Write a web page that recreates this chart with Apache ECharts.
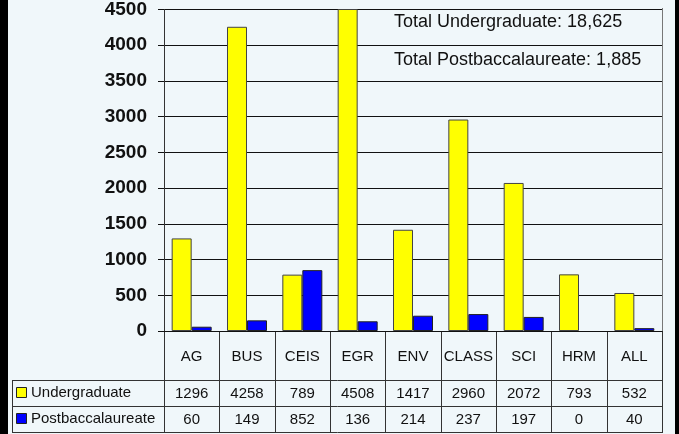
<!DOCTYPE html>
<html>
<head>
<meta charset="utf-8">
<script src="https://cdn.jsdelivr.net/npm/echarts@6/dist/echarts.min.js"></script>
<style>
  html, body { margin: 0; padding: 0; background: #000; }
  #main { width: 679px; height: 434px; }
</style>
</head>
<body>
<div id="main"></div>
<script>
// data
var categories = ["AG", "BUS", "CEIS", "EGR", "ENV", "CLASS", "SCI", "HRM", "ALL"];
var undergrad = [1296, 4258, 789, 4508, 1417, 2960, 2072, 793, 532];
var postbac = [60, 149, 852, 136, 214, 237, 197, 0, 40];
var yTicks = [0, 500, 1000, 1500, 2000, 2500, 3000, 3500, 4000, 4500];
var seriesNames = ["Undergraduate", "Postbaccalaureate"];
var seriesColors = ["#FFFF00", "#0000FF"];
var totals = ["Total Undergraduate: 18,625", "Total Postbaccalaureate: 1,885"];

var chartDom = document.getElementById("main");
var myChart = echarts.init(chartDom);

// layout of the plot / table
var gLeft = 164, gRight = 662, gTop = 8, gBottom = 331;
var row1 = 380, row2 = 406, row3 = 432, tableLeft = 12;
var lineColor = "#333";
var font = "Arial, 'Liberation Sans', sans-serif";

var graphics = [
  // light panel inside the black frame
  { type: "rect", z: -10, silent: true, shape: { x: 8, y: 0, width: 667, height: 434 }, style: { fill: "#F0F7FA" } },
  { type: "line", shape: { x1: gRight + 0.5, y1: gTop, x2: gRight + 0.5, y2: gBottom }, style: { stroke: "#777", lineWidth: 1 } }
];
// table lines
[row1, row2, row3].forEach(function (y) {
  graphics.push({ type: "line", shape: { x1: tableLeft, y1: y + 0.5, x2: gRight + 1, y2: y + 0.5 }, style: { stroke: lineColor, lineWidth: 1 } });
});
graphics.push({ type: "line", shape: { x1: tableLeft + 0.5, y1: row1, x2: tableLeft + 0.5, y2: row3 }, style: { stroke: lineColor, lineWidth: 1 } });
var step = (gRight - gLeft) / categories.length;
for (var i = 0; i <= categories.length; i++) {
  var x = Math.round(gLeft + i * step) + 0.5;
  graphics.push({ type: "line", shape: { x1: x, y1: gBottom, x2: x, y2: row3 }, style: { stroke: lineColor, lineWidth: 1 } });
}
// legend keys in the table
seriesNames.forEach(function (n, k) {
  var cy = row1 + 13 + k * (row2 - row1);
  graphics.push({ type: "rect", shape: { x: 16.5, y: cy - 5.5, width: 10, height: 10 }, style: { fill: seriesColors[k], stroke: "#222", lineWidth: 1 } });
  graphics.push({ type: "text", x: 31, y: cy, style: { text: n, font: "15px " + font, fill: "#111", verticalAlign: "middle" } });
});
totals.forEach(function (t, k) {
  graphics.push({ type: "text", x: 394, y: 22 + k * 38, style: { text: t, font: "18px " + font, fill: "#111", verticalAlign: "middle" } });
});

function rowAxis(offset, values) {
  return {
    type: "category",
    data: categories,
    position: "bottom",
    offset: offset,
    axisLine: { show: false },
    axisTick: { show: false },
    axisLabel: {
      margin: 6, fontFamily: font, fontSize: 15, color: "#111", interval: 0,
      formatter: function (v, idx) { return String(values[idx]); }
    }
  };
}

var option = {
  backgroundColor: "#000",
  animation: false,
  grid: { left: gLeft, right: 679 - gRight, top: gTop, bottom: 434 - gBottom },
  xAxis: [
    {
      type: "category",
      data: categories,
      axisLine: { show: true, lineStyle: { color: "#111", width: 1 } },
      axisTick: { show: false },
      axisLabel: { margin: 18, fontFamily: font, fontSize: 15, color: "#111", interval: 0 }
    },
    rowAxis(row1 - gBottom, undergrad),
    rowAxis(row2 - gBottom, postbac)
  ],
  yAxis: {
    type: "value",
    min: yTicks[0],
    max: yTicks[yTicks.length - 1],
    interval: 500,
    axisLine: { show: true, lineStyle: { color: "#333", width: 1 } },
    axisTick: { show: true, length: 6, lineStyle: { color: "#111" } },
    axisLabel: {
      margin: 17, fontFamily: font, fontSize: 19, fontWeight: "bold", color: "#111",
      formatter: function (v) { return String(v); }
    },
    splitLine: { show: true, lineStyle: { color: "#111", width: 1 } }
  },
  series: [
    {
      name: seriesNames[0],
      type: "bar",
      data: undergrad.map(function (v) { return v === 0 ? "-" : v; }),
      barWidth: 20,
      barGap: "0%",
      itemStyle: { color: seriesColors[0], borderColor: "#444", borderWidth: 1 }
    },
    {
      name: seriesNames[1],
      type: "bar",
      data: postbac.map(function (v) { return v === 0 ? "-" : v; }),
      barWidth: 20,
      itemStyle: { color: seriesColors[1], borderColor: "#222", borderWidth: 1 }
    }
  ],
  graphic: graphics
};
option && myChart.setOption(option);
</script>
</body>
</html>
